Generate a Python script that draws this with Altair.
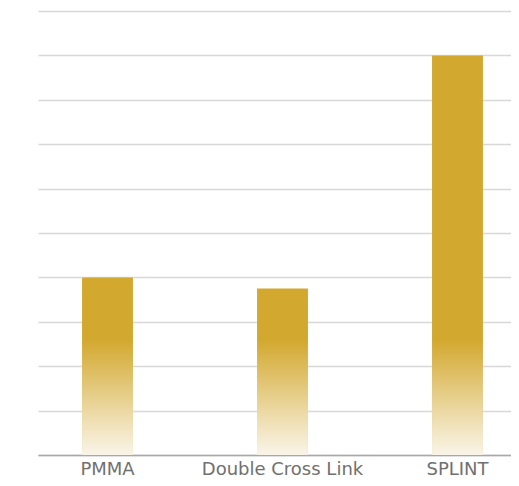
import altair as alt
import pandas as pd

categories = ["PMMA", "Double Cross Link", "SPLINT"]
values = [4.0, 3.75, 9.0]
fade_top = [2.6, 2.6, 2.6]
grid_values = [0, 1, 2, 3, 4, 5, 6, 7, 8, 9, 10]

df = pd.DataFrame({"cat": categories, "val": values, "fade": fade_top, "zero": [0, 0, 0]})

gold = "#D3A82E"

xscale = alt.Scale(domain=categories, paddingInner=0.709, paddingOuter=0.206, align=0.611)
yscale = alt.Scale(domain=[0, 10], nice=False)

xaxis = alt.Axis(title=None, labelAngle=0, ticks=False, domainColor="#a8a8a8",
                 domainWidth=1.5, labelColor="#707070", labelFont="DejaVu Sans",
                 labelFontSize=18, labelPadding=5, grid=False)
yaxis = alt.Axis(title=None, labels=False, ticks=False, domain=False,
                 values=grid_values, gridColor="#d8d8d8", gridWidth=1.3)

base = alt.Chart(df)

bars = base.mark_bar(color=gold).encode(
    x=alt.X("cat:N", scale=xscale, sort=categories, axis=xaxis),
    y=alt.Y("val:Q", scale=yscale, axis=yaxis),
)

fade = base.mark_bar(
    color=alt.Gradient(
        gradient="linear", x1=0, x2=0, y1=0, y2=1,
        stops=[alt.GradientStop(color="rgba(255,255,255,0)", offset=0),
               alt.GradientStop(color="rgba(255,255,255,0.45)", offset=0.5),
               alt.GradientStop(color="rgba(252,250,246,0.93)", offset=1)]
    )
).encode(
    x=alt.X("cat:N", scale=xscale, sort=categories, axis=xaxis),
    y=alt.Y("fade:Q", scale=yscale, axis=yaxis),
    y2="zero:Q",
)

chart = alt.layer(bars, fade).properties(
    width=473, height=444,
    autosize=alt.AutoSizeParams(type="none"),
    padding={"left": 30, "top": 3, "right": 0, "bottom": 30},
).configure_view(stroke=None)

chart.save("out.html", embed_options={"renderer": "svg", "actions": False})
